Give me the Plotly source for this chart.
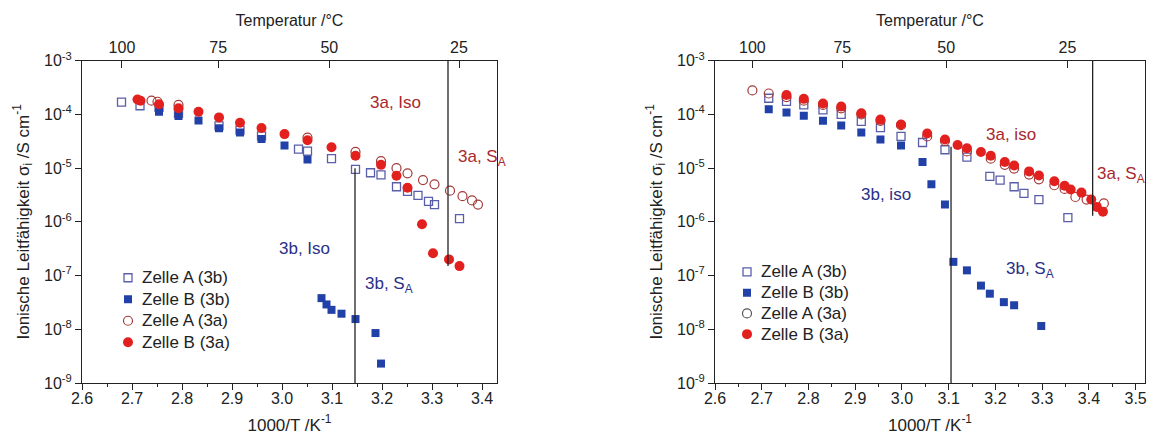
import numpy as np
import plotly.graph_objects as go

# ---------------- left panel: Iso / S_A series ----------------
L_A3b_x = [2.679, 2.716, 2.754, 2.793, 2.874, 2.916, 2.959, 3.033, 3.051, 3.099,
           3.147, 3.177, 3.198, 3.229, 3.251, 3.272, 3.293, 3.305, 3.355]
L_A3b_y = [1.7e-4, 1.45e-4, 1.35e-4, 1.05e-4, 6.1e-5, 5.1e-5, 4.0e-5, 2.26e-5, 2.08e-5, 1.5e-5,
           9.5e-6, 8.2e-6, 7.5e-6, 4.5e-6, 3.7e-6, 3.1e-6, 2.4e-6, 2.1e-6, 1.15e-6]

L_B3b_x = [2.754, 2.793, 2.833, 2.874, 2.916, 2.959, 3.005, 3.051,
           3.079, 3.089, 3.099, 3.119, 3.147, 3.187, 3.198]
L_B3b_y = [1.12e-4, 9.3e-5, 7.7e-5, 5.5e-5, 4.6e-5, 3.5e-5, 2.65e-5, 1.45e-5,
           3.8e-8, 2.9e-8, 2.3e-8, 1.95e-8, 1.55e-8, 8.5e-9, 2.3e-9]

L_A3a_x = [2.739, 2.751, 2.793, 3.051, 3.147, 3.198, 3.229, 3.251, 3.282, 3.305,
           3.336, 3.361, 3.380, 3.392]
L_A3a_y = [1.8e-4, 1.72e-4, 1.5e-4, 3.7e-5, 2.0e-5, 1.35e-5, 1.0e-5, 8.0e-6, 6.0e-6, 5.0e-6,
           3.8e-6, 3.0e-6, 2.5e-6, 2.1e-6]

L_B3a_x = [2.711, 2.717, 2.754, 2.793, 2.833, 2.874, 2.916, 2.959, 3.005, 3.051,
           3.099, 3.147, 3.198, 3.229, 3.251, 3.280, 3.302, 3.334, 3.355]
L_B3a_y = [1.9e-4, 1.8e-4, 1.55e-4, 1.3e-4, 1.12e-4, 8.8e-5, 7.0e-5, 5.6e-5, 4.3e-5, 3.3e-5,
           2.45e-5, 1.7e-5, 1.15e-5, 7.2e-6, 4.3e-6, 9.0e-7, 2.6e-7, 2.0e-7, 1.5e-7]

# ---------------- right panel: iso / S_A series ----------------
R_A3b_x = [2.715, 2.753, 2.790, 2.831, 2.870, 2.913, 2.954, 2.998, 3.044, 3.092,
           3.139, 3.188, 3.210, 3.240, 3.261, 3.293, 3.355]
R_A3b_y = [2.0e-4, 1.75e-4, 1.5e-4, 1.22e-4, 1.0e-4, 7.4e-5, 5.7e-5, 3.9e-5, 3.0e-5, 2.2e-5,
           1.6e-5, 7.0e-6, 6.0e-6, 4.5e-6, 3.4e-6, 2.6e-6, 1.2e-6]

R_B3b_x = [2.715, 2.753, 2.790, 2.831, 2.870, 2.913, 2.954, 2.998, 3.044, 3.063, 3.092,
           3.110, 3.139, 3.169, 3.188, 3.218, 3.240, 3.298]
R_B3b_y = [1.25e-4, 1.08e-4, 9.4e-5, 7.6e-5, 6.2e-5, 4.6e-5, 3.4e-5, 2.65e-5, 1.3e-5, 5.0e-6, 2.1e-6,
           1.8e-7, 1.25e-7, 6.5e-8, 4.6e-8, 3.2e-8, 2.8e-8, 1.15e-8]

R_A3a_x = [2.680, 2.715, 2.753, 2.790, 2.831, 2.870, 2.913, 2.954, 2.998, 3.054,
           3.092, 3.139, 3.190, 3.220, 3.240, 3.272, 3.293, 3.326, 3.348, 3.371,
           3.395, 3.432]
R_A3a_y = [2.8e-4, 2.45e-4, 2.1e-4, 1.8e-4, 1.5e-4, 1.3e-4, 1.0e-4, 7.6e-5, 6.3e-5, 3.9e-5,
           3.2e-5, 2.05e-5, 1.5e-5, 1.15e-5, 9.8e-6, 7.6e-6, 6.2e-6, 4.8e-6, 4.1e-6, 2.9e-6,
           2.6e-6, 2.2e-6]

R_B3a_x = [2.753, 2.790, 2.831, 2.870, 2.913, 2.954, 2.998, 3.054, 3.092, 3.119,
           3.139, 3.169, 3.190, 3.220, 3.240, 3.272, 3.293, 3.326, 3.348, 3.361,
           3.384, 3.405, 3.417, 3.430]
R_B3a_y = [2.3e-4, 1.95e-4, 1.6e-4, 1.4e-4, 1.05e-4, 8.0e-5, 6.5e-5, 4.4e-5, 3.4e-5, 2.7e-5,
           2.35e-5, 2.0e-5, 1.7e-5, 1.3e-5, 1.12e-5, 8.7e-6, 7.3e-6, 5.7e-6, 4.7e-6, 4.0e-6,
           3.5e-6, 2.6e-6, 1.9e-6, 1.55e-6]

# phase boundaries (1000/T, sigma start, sigma end)
L_lines = [(3.146, 1e-9, 1.0e-5), (3.332, 1e-3, 1.5e-7)]
R_lines = [(3.105, 1e-9, 2.5e-5), (3.408, 1e-3, 1.3e-6)]

# top-axis temperatures in degC
TEMPS_C = [100, 75, 50, 25]
Y_DECADES = [-9, -8, -7, -6, -5, -4, -3]

FONT = "Liberation Sans, Arial, sans-serif"
C_A3b = "#5a5ea8"
C_B3b = "#2140a8"
C_A3a = "#a33b3b"
C_B3a = "#e2211f"
C_TXT_A = "#a8282c"
C_TXT_B = "#2a2f88"
AX = "#222222"

series_names = ["Zelle A (3b)", "Zelle B (3b)", "Zelle A (3a)", "Zelle B (3a)"]
styles = [
    dict(symbol="square-open", color=C_A3b, size=8, line=dict(width=1.3, color=C_A3b)),
    dict(symbol="square", color=C_B3b, size=8, line=dict(width=0)),
    dict(symbol="circle-open", color=C_A3a, size=9, line=dict(width=1.2, color=C_A3a)),
    dict(symbol="circle", color=C_B3a, size=10, line=dict(width=0)),
]
# key styles of the right-hand legend (open circle key is drawn grey there)
styles_r = [styles[0], styles[1],
            dict(symbol="circle-open", color="#555555", size=9, line=dict(width=1.2, color="#555555")),
            styles[3]]

fig = go.Figure()

panels = [
    ("x", "y", [(L_A3b_x, L_A3b_y), (L_B3b_x, L_B3b_y), (L_A3a_x, L_A3a_y), (L_B3a_x, L_B3a_y)], L_lines),
    ("x2", "y2", [(R_A3b_x, R_A3b_y), (R_B3b_x, R_B3b_y), (R_A3a_x, R_A3a_y), (R_B3a_x, R_B3a_y)], R_lines),
]

for xa, ya, data, lines in panels:
    for (xs, ys), name, st in zip(data, series_names, styles):
        fig.add_trace(go.Scatter(x=xs, y=ys, mode="markers", name=name, marker=st,
                                 xaxis=xa, yaxis=ya, showlegend=False))
    for xv, y0, y1 in lines:
        fig.add_trace(go.Scatter(x=[xv, xv], y=[y0, y1], mode="lines",
                                 line=dict(color=AX, width=1.3), xaxis=xa, yaxis=ya,
                                 showlegend=False, hoverinfo="skip"))

# invisible traces carrying the temperature axes
temp_pos = [1000.0 / (t + 273.15) for t in TEMPS_C]
fig.add_trace(go.Scatter(x=temp_pos, y=[1e-3] * 4, mode="markers", marker=dict(opacity=0),
                         xaxis="x3", yaxis="y", showlegend=False, hoverinfo="skip"))
fig.add_trace(go.Scatter(x=temp_pos, y=[1e-3] * 4, mode="markers", marker=dict(opacity=0),
                         xaxis="x4", yaxis="y2", showlegend=False, hoverinfo="skip"))

# compact legends: one key row per series on small helper axes
LEG_FONT = dict(family=FONT, size=17, color=AX)
legend_boxes = [("x5", "y5", styles), ("x6", "y6", styles_r)]
for xa, ya, sts in legend_boxes:
    for i, (name, st) in enumerate(zip(series_names, sts)):
        fig.add_trace(go.Scatter(x=[0], y=[i], mode="markers", marker=st, xaxis=xa, yaxis=ya,
                                 showlegend=False, hoverinfo="skip"))
        fig.add_annotation(x=0, y=i, xref=xa, yref=ya, text=name, showarrow=False,
                           xanchor="left", xshift=12, font=LEG_FONT)

L_DOM = [82 / 1153, 497 / 1153]
R_DOM = [715 / 1153, 1145 / 1153]
Y_DOM = [1 - 383 / 436, 1 - 60.7 / 436]
L_RANGE = [2.6, 3.43]
R_RANGE = [2.6, 3.52]

tickfont = dict(family=FONT, size=16, color=AX)
titlefont = dict(family=FONT, size=17, color=AX)


def bottom_axis(dom, rng):
    return dict(domain=dom, range=rng, tickmode="linear", tick0=2.6, dtick=0.1,
                tickformat=".1f", ticks="outside", ticklen=6, tickcolor=AX, tickwidth=1,
                minor=dict(dtick=0.05, tick0=2.6, ticks="outside", ticklen=3, tickcolor=AX),
                showline=True, linecolor=AX, linewidth=1, mirror=False, showgrid=False,
                zeroline=False, tickfont=tickfont, automargin=False, ticklabelstandoff=-5,
                title=dict(text="1000/T /K<sup>-1</sup>", font=titlefont, standoff=12))


def top_axis(over, rng):
    return dict(overlaying=over, side="top", range=rng, tickmode="array",
                tickvals=temp_pos, ticktext=[str(t) for t in TEMPS_C],
                ticks="inside", ticklen=7, tickcolor=AX, showline=True, linecolor=AX,
                linewidth=1, showgrid=False, zeroline=False, tickfont=tickfont,
                automargin=False,
                title=dict(text="Temperatur /°C", font=dict(family=FONT, size=16, color=AX),
                           standoff=8))


def y_axis(anchor):
    return dict(domain=Y_DOM, anchor=anchor, type="log", range=[-9, -3],
                tickmode="array", tickvals=[10.0 ** d for d in Y_DECADES],
                ticktext=["10<sup>%d</sup>" % d for d in Y_DECADES],
                ticks="outside", ticklen=6, tickcolor=AX, showline=True, linecolor=AX,
                linewidth=1, mirror=True, showgrid=False, zeroline=False, tickfont=tickfont,
                automargin=False,
                title=dict(text="Ionische Leitfähigkeit σ<sub>i</sub> /S cm<sup>-1</sup>",
                           font=titlefont, standoff=10))


def helper_axis(dom, rng, anchor):
    return dict(domain=dom, range=rng, anchor=anchor, visible=False, fixedrange=True,
                automargin=False)


xa1 = bottom_axis(L_DOM, L_RANGE); xa1["anchor"] = "y"
xa2 = bottom_axis(R_DOM, R_RANGE); xa2["anchor"] = "y2"
xa3 = top_axis("x", L_RANGE); xa3["anchor"] = "y"
xa4 = top_axis("x2", R_RANGE); xa4["anchor"] = "y2"

fig.update_layout(
    width=1153, height=436, margin=dict(l=0, r=0, t=0, b=0),
    paper_bgcolor="white", plot_bgcolor="rgba(0,0,0,0)",
    font=dict(family=FONT, color=AX), showlegend=False,
    xaxis=xa1, xaxis2=xa2, xaxis3=xa3, xaxis4=xa4,
    yaxis=y_axis("x"), yaxis2=y_axis("x2"),
    # legend key areas: rows 21.5 px apart (left) and 20.75 px apart (right)
    xaxis5=helper_axis([118 / 1153, 262 / 1153], [-10, 134], "y5"),
    yaxis5=helper_axis([1 - 353 / 436, 1 - 267 / 436], [3.5, -0.5], "x5"),
    xaxis6=helper_axis([737 / 1153, 881 / 1153], [-10, 134], "y6"),
    yaxis6=helper_axis([1 - 344.5 / 436, 1 - 261.5 / 436], [3.5, -0.5], "x6"),
)

# phase labels (x in 1000/T, y as sigma)
labels = [
    ("x", "y", 3.226, 1.7e-4, "3a, Iso", C_TXT_A),
    ("x", "y", 3.40, 1.55e-5, "3a, S<sub>A</sub>", C_TXT_A),
    ("x", "y", 3.044, 3.2e-7, "3b, Iso", C_TXT_B),
    ("x", "y", 3.214, 6.6e-8, "3b, S<sub>A</sub>", C_TXT_B),
    ("x2", "y2", 3.233, 4.3e-5, "3a, iso", C_TXT_A),
    ("x2", "y2", 3.468, 7.4e-6, "3a, S<sub>A</sub>", C_TXT_A),
    ("x2", "y2", 2.965, 3.3e-6, "3b, iso", C_TXT_B),
    ("x2", "y2", 3.274, 1.26e-7, "3b, S<sub>A</sub>", C_TXT_B),
]
for xr, yr, xv, yv, txt, col in labels:
    fig.add_annotation(x=xv, y=np.log10(yv), xref=xr, yref=yr, text=txt, showarrow=False,
                       font=dict(family=FONT, size=17, color=col))

fig.write_html("out.html")
